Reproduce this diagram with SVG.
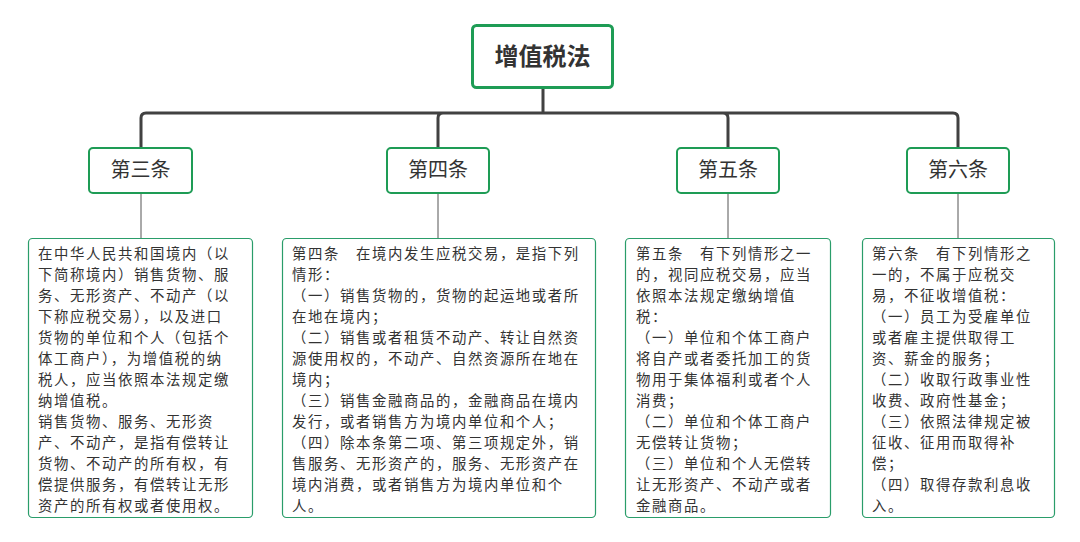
<svg xmlns="http://www.w3.org/2000/svg" width="1080" height="542" viewBox="0 0 1080 542">
<style>
.bg{fill:#ffffff}
.root{fill:#ffffff;stroke:#1e9c55;stroke-width:3}
.sub{fill:#ffffff;stroke:#1e9c55;stroke-width:2}
.det{fill:#ffffff;stroke:#2a9d6a;stroke-width:1.2}
.conn{fill:none;stroke:#414141;stroke-width:3;stroke-linecap:round}
.thin{fill:none;stroke:#555555;stroke-width:1}
text{font-family:"Noto Sans CJK SC","Microsoft YaHei",sans-serif;fill:#333333}
.t-root{font-size:24px;font-weight:bold;text-anchor:middle}
.t-sub{font-size:20px;text-anchor:middle}
.t-det{font-size:14.4px;letter-spacing:1.6px}
</style>
<rect class="bg" x="0" y="0" width="1080" height="542"/>
<g id="connectors">
  <path class="conn" d="M543 88 V113 M146 113 H953 M141 148 V118 Q141 113 146 113 M438 148 V118 Q438 113 443 113 M728 148 V118 Q728 113 723 113 M958 148 V118 Q958 113 953 113"/>
  <path class="thin" d="M141 193 V238 M438 193 V238 M728 193 V238 M958 193 V238"/>
</g>
<g id="root">
  <rect class="root" x="472.5" y="25.5" width="140" height="62" rx="4"/>
  <text class="t-root" x="542.5" y="65">增值税法</text>
</g>
<g id="art3">
  <rect class="sub" x="89" y="148" width="103" height="45" rx="4"/>
  <text class="t-sub" x="140.5" y="177">第三条</text>
</g>
<g id="art4">
  <rect class="sub" x="387" y="148" width="102" height="45" rx="4"/>
  <text class="t-sub" x="438" y="177">第四条</text>
</g>
<g id="art5">
  <rect class="sub" x="677" y="148" width="102" height="45" rx="4"/>
  <text class="t-sub" x="728" y="177">第五条</text>
</g>
<g id="art6">
  <rect class="sub" x="907" y="148" width="102" height="45" rx="4"/>
  <text class="t-sub" x="958" y="177">第六条</text>
</g>
<g id="detail3">
  <rect class="det" x="28.5" y="238.5" width="224" height="279" rx="4"/>
  <text class="t-det">
    <tspan x="38" y="259">在中华人民共和国境内（以</tspan>
    <tspan x="38" y="280">下简称境内）销售货物、服</tspan>
    <tspan x="38" y="301">务、无形资产、不动产（以</tspan>
    <tspan x="38" y="322">下称应税交易），以及进口</tspan>
    <tspan x="38" y="343">货物的单位和个人（包括个</tspan>
    <tspan x="38" y="364">体工商户），为增值税的纳</tspan>
    <tspan x="38" y="385">税人，应当依照本法规定缴</tspan>
    <tspan x="38" y="406">纳增值税。</tspan>
    <tspan x="38" y="427">销售货物、服务、无形资</tspan>
    <tspan x="38" y="448">产、不动产，是指有偿转让</tspan>
    <tspan x="38" y="469">货物、不动产的所有权，有</tspan>
    <tspan x="38" y="490">偿提供服务，有偿转让无形</tspan>
    <tspan x="38" y="511">资产的所有权或者使用权。</tspan>
  </text>
</g>
<g id="detail4">
  <rect class="det" x="282.5" y="238.5" width="313" height="279" rx="4"/>
  <text class="t-det">
    <tspan x="292" y="259">第四条　在境内发生应税交易，是指下列</tspan>
    <tspan x="292" y="280">情形：</tspan>
    <tspan x="292" y="301">（一）销售货物的，货物的起运地或者所</tspan>
    <tspan x="292" y="322">在地在境内；</tspan>
    <tspan x="292" y="343">（二）销售或者租赁不动产、转让自然资</tspan>
    <tspan x="292" y="364">源使用权的，不动产、自然资源所在地在</tspan>
    <tspan x="292" y="385">境内；</tspan>
    <tspan x="292" y="406">（三）销售金融商品的，金融商品在境内</tspan>
    <tspan x="292" y="427">发行，或者销售方为境内单位和个人；</tspan>
    <tspan x="292" y="448">（四）除本条第二项、第三项规定外，销</tspan>
    <tspan x="292" y="469">售服务、无形资产的，服务、无形资产在</tspan>
    <tspan x="292" y="490">境内消费，或者销售方为境内单位和个</tspan>
    <tspan x="292" y="511">人。</tspan>
  </text>
</g>
<g id="detail5">
  <rect class="det" x="625.5" y="238.5" width="205" height="279" rx="4"/>
  <text class="t-det">
    <tspan x="636" y="259">第五条　有下列情形之一</tspan>
    <tspan x="636" y="280">的，视同应税交易，应当</tspan>
    <tspan x="636" y="301">依照本法规定缴纳增值</tspan>
    <tspan x="636" y="322">税：</tspan>
    <tspan x="636" y="343">（一）单位和个体工商户</tspan>
    <tspan x="636" y="364">将自产或者委托加工的货</tspan>
    <tspan x="636" y="385">物用于集体福利或者个人</tspan>
    <tspan x="636" y="406">消费；</tspan>
    <tspan x="636" y="427">（二）单位和个体工商户</tspan>
    <tspan x="636" y="448">无偿转让货物；</tspan>
    <tspan x="636" y="469">（三）单位和个人无偿转</tspan>
    <tspan x="636" y="490">让无形资产、不动产或者</tspan>
    <tspan x="636" y="511">金融商品。</tspan>
  </text>
</g>
<g id="detail6">
  <rect class="det" x="862.5" y="238.5" width="192" height="279" rx="4"/>
  <text class="t-det">
    <tspan x="872" y="259">第六条　有下列情形之</tspan>
    <tspan x="872" y="280">一的，不属于应税交</tspan>
    <tspan x="872" y="301">易，不征收增值税：</tspan>
    <tspan x="872" y="322">（一）员工为受雇单位</tspan>
    <tspan x="872" y="343">或者雇主提供取得工</tspan>
    <tspan x="872" y="364">资、薪金的服务；</tspan>
    <tspan x="872" y="385">（二）收取行政事业性</tspan>
    <tspan x="872" y="406">收费、政府性基金；</tspan>
    <tspan x="872" y="427">（三）依照法律规定被</tspan>
    <tspan x="872" y="448">征收、征用而取得补</tspan>
    <tspan x="872" y="469">偿；</tspan>
    <tspan x="872" y="490">（四）取得存款利息收</tspan>
    <tspan x="872" y="511">入。</tspan>
  </text>
</g>
</svg>
